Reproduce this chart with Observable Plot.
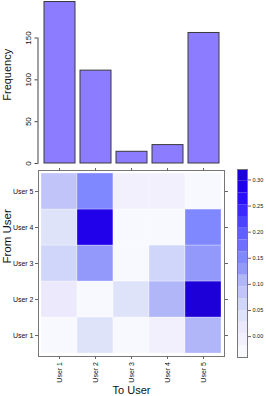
<!DOCTYPE html>
<html><head><meta charset="utf-8">
<script src="https://cdn.jsdelivr.net/npm/d3@7"></script>
<script src="https://cdn.jsdelivr.net/npm/@observablehq/plot@0.6"></script>
<style>
html,body{margin:0;padding:0;background:#fff;}
#chart{position:relative;width:266px;height:396px;overflow:hidden;font-family:"Liberation Sans",Arial,sans-serif;}
#chart svg{position:absolute;left:0;top:0;}
</style></head><body><div id="chart"></div>
<script>
// ---- data ----
const users = ["User 1", "User 2", "User 3", "User 4", "User 5"];
const frequency = [193, 111, 14, 22, 156];
const freqTicks = [0, 50, 100, 150];
// rows: From User 1..5 ; columns: To User 1..5
const transition = [
  [-0.03, 0.04, -0.03, -0.01, 0.10],
  [0.015, -0.03, 0.04, 0.10, 0.31],
  [0.06, 0.13, -0.03, 0.055, 0.13],
  [0.04, 0.28, -0.03, -0.03, 0.15],
  [0.08, 0.15, -0.01, -0.01, -0.03]
];
const breaks = [-0.04, -0.0175, 0.005, 0.0275, 0.05, 0.0725, 0.095, 0.1175, 0.14,
  0.1625, 0.185, 0.2075, 0.23, 0.2525, 0.275, 0.2975, 0.32];
const palette = ["#F8F9FE", "#F2F0FD", "#EBE9FB", "#DFE3FA", "#D0D6FA", "#C0C4F8",
  "#B0B6F8", "#9399FA", "#8088FF", "#7070FF", "#6060FF", "#4A44FF", "#3A28FF",
  "#2A10F8", "#2100EA", "#1D00D8"];
const colorTicks = [0, 0.05, 0.10, 0.15, 0.20, 0.25, 0.30];

// ---- derived tables ----
const barData = users.map((u, i) => ({user: u, freq: frequency[i]}));
const cells = [];
users.forEach((from, i) => users.forEach((to, j) => cells.push({from, to, value: transition[i][j]})));
const levels = palette.map((c, i) => ({lo: breaks[i], hi: breaks[i + 1], color: c}));

const baseStyle = {background: "transparent", fontFamily: '"Liberation Sans", Arial, sans-serif', color: "#111", overflow: "visible"};
const W = 266, H = 396;
const chart = document.getElementById("chart");

// ---- top bar chart ----
chart.append(Plot.plot({
  width: W, height: H,
  marginLeft: 37.5, marginRight: 45, marginTop: 37.5, marginBottom: 233,
  style: baseStyle,
  x: {type: "band", domain: users, range: [41, 221], paddingInner: 0.14, paddingOuter: 0.07, axis: null},
  y: {domain: [0, 150], axis: null},
  marks: [
    Plot.barY(barData, {x: "user", y: "freq", fill: "#8C7CFF", stroke: "#3a3a3a", strokeWidth: 1}),
    Plot.axisY({ticks: freqTicks, tickSize: 3, tickRotate: -90, fontSize: 8, tickPadding: 4.5, label: null, stroke: "#444"}),
    Plot.frame({anchor: "left", stroke: "#444"}),
    Plot.text(["Frequency"], {frameAnchor: "left", rotate: -90, dx: -30.5, fontSize: 11, fill: "#111"})
  ]
}));

// ---- heatmap ----
chart.append(Plot.plot({
  width: W, height: H,
  marginLeft: 38, marginRight: 42, marginTop: 170, marginBottom: 40,
  style: baseStyle,
  x: {type: "band", domain: users, range: [41, 221], padding: 0, axis: null},
  y: {type: "band", domain: [...users].reverse(), range: [173, 353], padding: 0, axis: null},
  color: {type: "threshold", domain: breaks.slice(1, -1), range: palette},
  marks: [
    Plot.cell(cells, {x: "to", y: "from", fill: "value", stroke: "#fff", strokeOpacity: 0.5, strokeWidth: 0.6}),
    Plot.frame({stroke: "#777"}),
    Plot.axisX({anchor: "bottom", tickSize: 3, tickRotate: -90, fontSize: 7, tickPadding: 2.5, label: null, stroke: "#666"}),
    Plot.axisX({anchor: "top", tickSize: 3, tickFormat: () => "", label: null, stroke: "#666"}),
    Plot.axisY({anchor: "left", tickSize: 3, fontSize: 7, tickPadding: 2, label: null, stroke: "#666"}),
    Plot.axisY({anchor: "right", tickSize: 3, tickFormat: () => "", label: null, stroke: "#666"}),
    Plot.text(["To User"], {frameAnchor: "bottom", dy: 37.5, fontSize: 11, fill: "#111"}),
    Plot.text(["From User"], {frameAnchor: "left", rotate: -90, dx: -31, fontSize: 11.5, fill: "#111"})
  ]
}));

// ---- colour key ----
chart.append(Plot.plot({
  width: W, height: H,
  marginLeft: 237, marginRight: 19, marginTop: 169, marginBottom: 39,
  style: baseStyle,
  y: {domain: [breaks[0], breaks[breaks.length - 1]], axis: null},
  marks: [
    Plot.rect(levels, {y1: "lo", y2: "hi", fill: "color"}),
    Plot.frame({stroke: "#777"}),
    Plot.axisY({anchor: "right", ticks: colorTicks, tickFormat: ".2f", tickSize: 3, tickPadding: 2, fontSize: 5.5, label: null, stroke: "#666"})
  ]
}));
</script>
</body></html>
